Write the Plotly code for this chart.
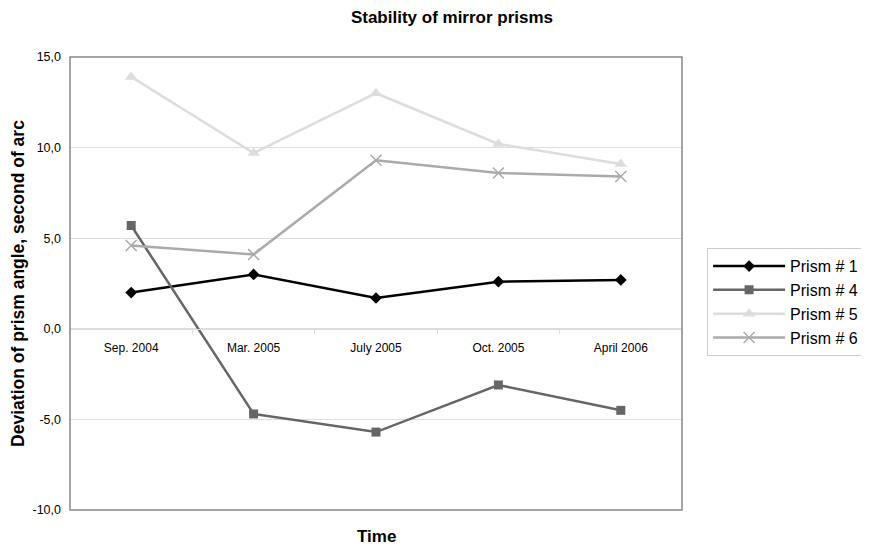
import plotly.graph_objects as go

categories = ["Sep. 2004", "Mar. 2005", "July 2005", "Oct. 2005", "April 2006"]
prism1 = [2.0, 3.0, 1.7, 2.6, 2.7]
prism4 = [5.7, -4.7, -5.7, -3.1, -4.5]
prism5 = [13.9, 9.7, 13.0, 10.2, 9.1]
prism6 = [4.6, 4.1, 9.3, 8.6, 8.4]
ytick_vals = [-10, -5, 0, 5, 10, 15]
ytick_text = ["-10,0", "-5,0", "0,0", "5,0", "10,0", "15,0"]

FONT = "Liberation Sans, Arial, sans-serif"

fig = go.Figure()
series = [
    ("Prism # 1", prism1, "#000000", dict(symbol="diamond", size=9)),
    ("Prism # 4", prism4, "#666666", dict(symbol="square", size=9)),
    ("Prism # 5", prism5, "#dddddd", dict(symbol="triangle-up", size=11)),
    ("Prism # 6", prism6, "#aaaaaa", dict(symbol="x-thin-open", size=11, line=dict(width=1.5, color="#999999"))),
]
for name, vals, color, mk in series:
    marker = dict(color=color, **mk)
    fig.add_trace(go.Scatter(
        x=categories, y=vals, name=name, mode="lines+markers",
        line=dict(color=color, width=2.5), marker=marker,
    ))

# page body has an 8px margin, so figure coords are offset by 8px
fig.update_layout(
    width=869, height=546,
    margin=dict(l=62, r=195, t=49, b=44, autoexpand=False),
    paper_bgcolor="white", plot_bgcolor="white",
    font=dict(family=FONT, color="#000000"),
    title=dict(text="<b>Stability of mirror prisms</b>", x=444 / 869, xanchor="center",
               y=1 - 3 / 546, yanchor="top", font=dict(size=17)),
    showlegend=True,
    legend=dict(x=1.041, y=0.578, xanchor="left", yanchor="top",
                bordercolor="#cccccc", borderwidth=1, bgcolor="white",
                font=dict(size=16), tracegroupgap=0, itemwidth=72),
    xaxis=dict(
        type="category", anchor="free", position=0.4,
        showline=True, linecolor="#dddddd", linewidth=1,
        showgrid=False, zeroline=False,
        ticks="outside", ticklen=4, tickcolor="#dddddd", tickson="boundaries",
        ticklabelstandoff=8, automargin=False,
        tickfont=dict(size=12),
        range=[-0.5, 4.5],
    ),
    yaxis=dict(
        range=[-10, 15], tickvals=ytick_vals, ticktext=ytick_text,
        showgrid=True, gridcolor="#dddddd", gridwidth=1,
        zeroline=False, showline=False, automargin=False,
        tickfont=dict(size=12.5), ticks="", ticklabelstandoff=8,
        title=dict(text="<b>Deviation of prism angle, second of arc</b>",
                   font=dict(size=17.5), standoff=18),
    ),
    shapes=[dict(type="rect", xref="paper", yref="paper", x0=0, x1=1, y0=0, y1=1,
                 line=dict(color="#888888", width=1.5), layer="above")],
    annotations=[dict(text="<b>Time</b>", xref="paper", yref="paper", x=0.5, y=0,
                      yanchor="middle", yshift=-26, showarrow=False, font=dict(size=17))],
)

fig.write_html("out.html")
